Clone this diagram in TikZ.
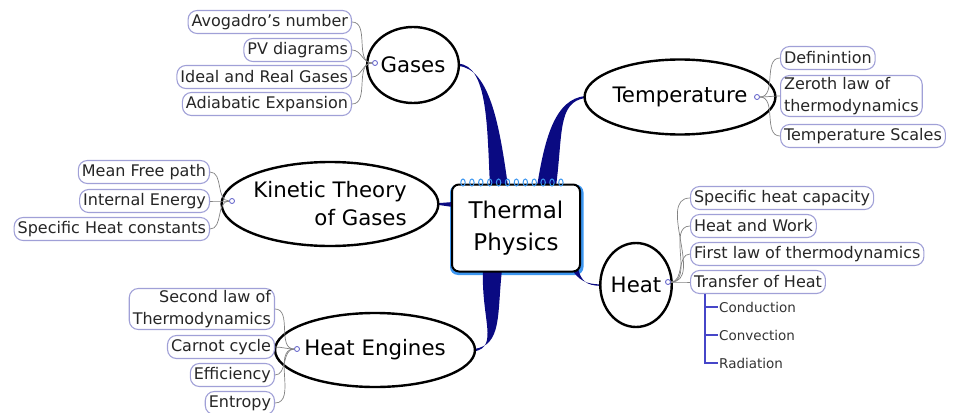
\documentclass[tikz,border=0pt]{standalone}
\usepackage{fontspec}
\setmainfont{DejaVu Sans}
\usetikzlibrary{shapes.geometric, calc}
\pgfdeclarelayer{background}
\pgfsetlayers{background,main}

\definecolor{branchblue}{RGB}{10,10,130}
\definecolor{leafline}{RGB}{160,160,215}
\definecolor{twiggrey}{RGB}{130,130,130}
\definecolor{ringblue}{RGB}{60,150,240}
\definecolor{hubblue}{RGB}{90,90,200}
\definecolor{subblue}{RGB}{70,70,200}

\tikzset{
  topic/.style={ellipse, draw=black, line width=2.4pt, fill=white, inner sep=0pt,
    font=\fontsize{21.3}{28}\selectfont},
  leaf/.style={draw=leafline, line width=1.1pt, rounded corners=9pt, fill=white,
    inner xsep=3.5pt, inner ysep=2pt, minimum height=23pt,
    font=\fontsize{16}{21.5}\selectfont, text=black!85},
  hub/.style={circle, draw=hubblue, fill=white, line width=0.8pt, inner sep=0pt,
    minimum size=5pt},
  twig/.style={draw=twiggrey, line width=0.7pt},
  branch/.style={fill=branchblue},
  subitem/.style={font=\fontsize{13.5}{16}\selectfont, text=black!80, inner sep=1pt,
    anchor=west},
  subline/.style={draw=subblue, line width=1.2pt},
}

\begin{document}
\begin{tikzpicture}[x=1pt, y=-1pt]
  \useasboundingbox (0,0) rectangle (957,412);

  % ===== Centre =====
  \node[draw, line width=2pt, rounded corners=7pt, fill=white, minimum width=128pt,
    minimum height=87pt, align=center, font=\fontsize{23}{32}\selectfont]
    (thermal) at (516,228) {Thermal\\Physics};
  \foreach \i in {0,...,11}
    \draw[ringblue, line width=1pt] ($(thermal.north west)+(12+8.9*\i,-1)$) ellipse (2.2 and 3.5);

  % ===== Topics =====
  \node[topic, minimum width=70pt, minimum height=76pt] (gases) at (413,65) {Gases};
  \node[topic, minimum width=144pt, minimum height=75pt] (temp) at (680,97) {Temperature};
  \node[topic, minimum width=190pt, minimum height=84pt, align=right] (kin) at (330,204)
    {Kinetic Theory\\of Gases};
  \node[topic, minimum width=146pt, minimum height=74pt] (engines) at (375,350) {Heat Engines};
  \node[topic, minimum width=57pt, minimum height=84pt] (heat) at (636,285) {Heat};

  % ===== Gases =====
  \node[hub] (gh) at (375,63) {};
  \node[leaf, anchor=east] (g1) at (352,22) {Avogadro's number};
  \node[leaf, anchor=east] (g2) at (352,50) {PV diagrams};
  \node[leaf, anchor=east] (g3) at (352,77) {Ideal and Real Gases};
  \node[leaf, anchor=east] (g4) at (352,104) {Adiabatic Expansion};
  \foreach \n in {g1,g2,g3,g4}
    \draw[twig] (gh) to[out=180, in=0] (\n.east);

  % ===== Kinetic theory =====
  \node[hub] (kh) at (232,201) {};
  \node[leaf, anchor=east] (k1) at (210,172) {Mean Free path};
  \node[leaf, anchor=east] (k2) at (210,201) {Internal Energy};
  \node[leaf, anchor=east] (k3) at (210,229) {Specific Heat constants};
  \foreach \n in {k1,k2,k3}
    \draw[twig] (kh) to[out=180, in=0] (\n.east);

  % ===== Heat engines =====
  \node[hub] (eh) at (297,349) {};
  \node[leaf, anchor=east, align=right] (e1) at (275,309) {Second law of\\Thermodynamics};
  \node[leaf, anchor=east] (e2) at (275,347) {Carnot cycle};
  \node[leaf, anchor=east] (e3) at (275,375) {Efficiency};
  \node[leaf, anchor=east] (e4) at (275,403) {Entropy};
  \foreach \n in {e1,e2,e3,e4}
    \draw[twig] (eh) to[out=180, in=0] (\n.east);

  % ===== Temperature =====
  \node[hub] (th) at (757,97) {};
  \node[leaf, anchor=west] (t1) at (780,58) {Definintion};
  \node[leaf, anchor=west, align=left] (t2) at (780,96) {Zeroth law of\\thermodynamics};
  \node[leaf, anchor=west] (t3) at (780,136) {Temperature Scales};
  \foreach \n in {t1,t2,t3}
    \draw[twig] (th) to[out=0, in=180] (\n.west);

  % ===== Heat =====
  \node[hub] (hh) at (668,282) {};
  \node[leaf, anchor=west] (h1) at (690,198) {Specific heat capacity};
  \node[leaf, anchor=west] (h2) at (690,226) {Heat and Work};
  \node[leaf, anchor=west] (h3) at (690,254) {First law of thermodynamics};
  \node[leaf, anchor=west] (h4) at (690,282) {Transfer of Heat};
  \foreach \n in {h1,h2,h3,h4}
    \draw[twig] (hh) to[out=0, in=180] (\n.west);

  % transfer of heat
  \coordinate (sub) at ($(h4.south west)+(15,0)$);
  \node[subitem] (cond) at (718,307) {Conduction};
  \node[subitem] (conv) at (718,335) {Convection};
  \node[subitem] (rad) at (718,363) {Radiation};
  \foreach \n in {cond,conv,rad}
    \draw[subline] (sub) |- (\n.west);

  % ===== Branches =====
  \begin{pgfonlayer}{background}
    \fill[ringblue] ($(thermal.north west)+(-1,1)$) [rounded corners=8pt]
      rectangle ($(thermal.south east)+(2.5,2.5)$);
    % gases
    \fill[branch] ($(gases.east)+(-2,-1.5)$) .. controls +(30,2) and +(-3,-60) ..
      ($(thermal.north)+(-26,3)$) -- ($(thermal.north)+(-8,3)$)
      .. controls +(-8,-58) and +(32,2) .. ($(gases.east)+(-2,1)$) -- cycle;
    % temperature
    \fill[branch] ($(temp.west)+(2,-1)$) .. controls +(-30,3) and +(8,-50) ..
      ($(thermal.north)+(21,3)$) -- ($(thermal.north)+(40,3)$)
      .. controls +(7,-53) and +(-28,4) .. ($(temp.west)+(2,1)$) -- cycle;
    % heat engines
    \fill[branch] ($(engines.east)+(-2,1.5)$) .. controls +(25,-5) and +(-2,50) ..
      ($(thermal.south)+(-33,-3)$) -- ($(thermal.south)+(-14,-3)$)
      .. controls +(-5,45) and +(28,-4) .. ($(engines.east)+(-2,-1)$) -- cycle;
    % heat
    \fill[branch] ($(thermal.south east)+(-10,-4)$) .. controls +(8,12) and +(-15,0) ..
      ($(heat.west)+(2,-0.6)$) -- ($(heat.west)+(2,0.8)$)
      .. controls +(-15,0) and +(3,12) .. ($(thermal.south east)+(-3,-4)$) -- cycle;
    % kinetic theory
    \fill[branch] ($(kin.east)+(-2,-0.8)$) -- ($(kin.east -| thermal.west)+(2,-2)$)
      -- ($(kin.east -| thermal.west)+(2,3)$) -- ($(kin.east)+(-2,0.8)$) -- cycle;
  \end{pgfonlayer}
\end{tikzpicture}
\end{document}
